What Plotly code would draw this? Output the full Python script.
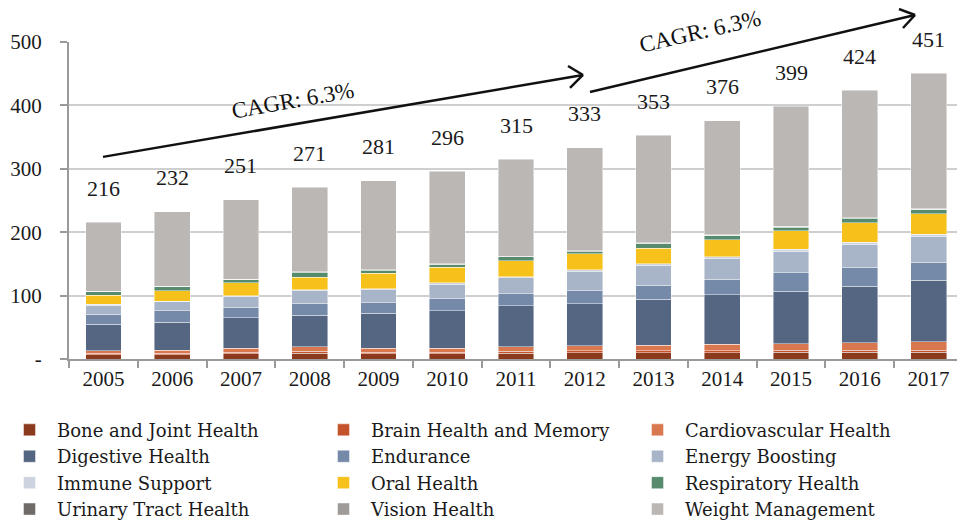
import plotly.graph_objects as go

years = ["2005", "2006", "2007", "2008", "2009", "2010", "2011", "2012", "2013", "2014", "2015", "2016", "2017"]
totals = [216, 232, 251, 271, 281, 296, 315, 333, 353, 376, 399, 424, 451]

bone = [7, 7, 8, 9, 8, 8, 9, 10, 10, 10, 11, 11, 11]
brain = [2, 2, 3, 3, 3, 3, 3, 3, 3, 3, 3, 3, 3]
cardio = [4, 5, 6, 7, 6, 6, 7, 8, 9, 10, 10, 12, 13]
digestive = [42, 44, 48, 50, 55, 59, 65, 66, 72, 78, 83, 89, 97]
endurance = [15.5, 18, 17, 19, 17, 19, 19, 21, 22, 25, 29, 30, 29]
energy = [14, 14, 17, 20, 20, 22, 25, 30, 32, 32, 34, 36, 41]
immune = [1.5, 1, 1, 1, 2, 3, 2, 3, 2, 3, 3, 3, 3]
oral = [14.5, 17, 20, 20, 24, 25, 25, 25, 25, 27, 29, 31, 32]
respiratory = [5.5, 6, 5, 8, 5, 4, 6, 4, 7, 7, 6, 7, 7]
urinary = [0.5, 0.5, 0.5, 0.5, 0.5, 0.5, 0.5, 0.5, 0.5, 0.5, 0.5, 0.5, 0.5]
vision = [0.5, 0.5, 0.5, 0.5, 0.5, 0.5, 0.5, 0.5, 0.5, 0.5, 0.5, 0.5, 0.5]
weight = [109, 117, 125, 133, 140, 146, 153, 162, 170, 180, 190, 201, 214]

y_tick_vals = [0, 100, 200, 300, 400, 500]
y_tick_text = ["-", "100", "200", "300", "400", "500"]
cagr_label = "CAGR: 6.3%"

series = [
    ("Bone and Joint Health", bone, "#8B3A1E"),
    ("Brain Health and Memory", brain, "#C4532C"),
    ("Cardiovascular Health", cardio, "#D9774F"),
    ("Digestive Health", digestive, "#546682"),
    ("Endurance", endurance, "#7589A8"),
    ("Energy Boosting", energy, "#A8B4C8"),
    ("Immune Support", immune, "#CDD3DF"),
    ("Oral Health", oral, "#F7C11B"),
    ("Respiratory Health", respiratory, "#568B6E"),
    ("Urinary Tract Health", urinary, "#6F6B68"),
    ("Vision Health", vision, "#9E9B98"),
    ("Weight Management", weight, "#BBB7B4"),
]

FONT = "Palatino Linotype, Book Antiqua, Palatino, Liberation Serif, serif"
LFONT = "DejaVu Serif, serif"

fig = go.Figure()
for name, vals, color in series:
    fig.add_trace(go.Bar(
        x=years, y=vals, name=name,
        marker=dict(color=color, line=dict(color="rgba(255,255,255,0.55)", width=0.8)),
        hoverinfo="x+y+name",
    ))

# total labels above bars (x given as category index)
for i, t in enumerate(totals):
    fig.add_annotation(x=i, y=t, text=str(t), showarrow=False,
                       xanchor="center", yanchor="middle", yshift=34,
                       font=dict(family=FONT, size=22, color="#1a1a1a"))

# page has an 8px body margin; coordinates below are reference-image pixels
OFF = 8
FW, FH = 965 - OFF, 524 - OFF
L, R, T, B = 69, 963, 42, 359.3
W, H = R - L, B - T

def px(x):
    return (x - L) / W

def py(y):
    return (B - y) / H

def seg(x0, y0, x1, y1):
    fig.add_shape(type="line", xref="paper", yref="paper",
                  x0=px(x0), y0=py(y0), x1=px(x1), y1=py(y1),
                  line=dict(color="#111111", width=2.5))

# CAGR arrow 1
seg(103, 157, 583, 75)
seg(568, 66, 583, 75)
seg(570, 88, 583, 75)
# CAGR arrow 2
seg(590, 92, 915, 15)
seg(899, 9, 915, 15)
seg(903, 28, 915, 15)

fig.add_annotation(xref="paper", yref="paper", x=px(293), y=py(101), text=cagr_label,
                   showarrow=False, textangle=-10, xanchor="center", yanchor="middle",
                   font=dict(family=FONT, size=23, color="#111111"))
fig.add_annotation(xref="paper", yref="paper", x=px(700), y=py(31), text=cagr_label,
                   showarrow=False, textangle=-13, xanchor="center", yanchor="middle",
                   font=dict(family=FONT, size=23, color="#111111"))

fig.update_layout(
    width=FW, height=FH,
    margin=dict(l=L - OFF, r=FW - (R - OFF), t=T - OFF, b=FH - (B - OFF), autoexpand=False),
    barmode="stack", bargap=0.48,
    plot_bgcolor="white", paper_bgcolor="white",
    font=dict(family=FONT, size=19, color="#1a1a1a"),
    showlegend=True,
    legend=dict(orientation="h", x=px(2), y=py(412), xanchor="left", yanchor="top",
                entrywidth=254, entrywidthmode="pixels", itemwidth=45,
                font=dict(family=LFONT, size=18, color="#1a1a1a"),
                traceorder="normal", itemclick=False, itemdoubleclick=False),
)
fig.update_xaxes(
    type="category", range=[-0.5, len(years) - 0.5],
    showline=True, linecolor="#9a9a9a", linewidth=2,
    ticks="outside", ticklen=7, tickcolor="#9a9a9a", tickwidth=2,
    tickson="boundaries", showgrid=False, tickangle=0,
    tickfont=dict(family=FONT, size=21, color="#1a1a1a"),
)
fig.update_yaxes(
    range=[0, 500], tickvals=y_tick_vals, ticktext=y_tick_text,
    showline=True, linecolor="#9a9a9a", linewidth=2,
    ticks="outside", ticklen=7, tickcolor="#9a9a9a", tickwidth=2,
    showgrid=True, gridcolor="#cfcfcf", gridwidth=1.5,
    zeroline=False, ticklabelstandoff=14,
    tickfont=dict(family=FONT, size=21, color="#1a1a1a"),
)

fig.write_html("out.html")
